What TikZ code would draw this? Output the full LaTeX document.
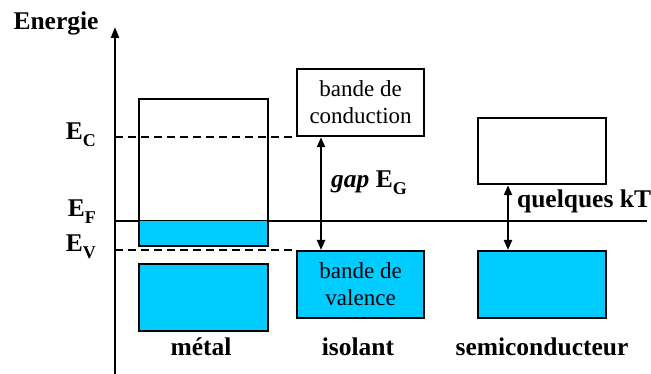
\documentclass[tikz,border=0pt]{standalone}
\usepackage{fontspec}
\setmainfont{Liberation Serif}
\usetikzlibrary{arrows.meta}
\definecolor{bandfill}{HTML}{00CCFF}
% lowered subscript for the energy levels
\newcommand\lvlsub[1]{\raisebox{-7pt}{\fontsize{18}{18}\selectfont #1}}
\begin{document}
\begin{tikzpicture}[x=1pt,y=-1pt,line width=2.2pt,
  band/.style={draw,line width=2.2pt,minimum width=127pt,minimum height=67pt,
    anchor=north west,inner sep=0pt,align=center,
    font=\fontsize{23}{27}\selectfont},
  filled/.style={band,fill=bandfill},
  lbl/.style={font=\fontsize{25.5}{28}\selectfont\bfseries,anchor=base,inner sep=0pt},
  level/.style={line width=2.2pt,dash pattern=on 8pt off 5pt},
  tip/.style={-{Triangle[length=11pt,width=8pt]}},
  dtip/.style={{Triangle[length=10pt,width=8pt]}-{Triangle[length=10pt,width=8pt]}}
]
\useasboundingbox (0,0) rectangle (651,374);

% energy axis
\coordinate (ax0) at (115,374);
\coordinate (ax1) at (115,27);
\draw[tip] (ax0) -- (ax1);
\node[lbl] (energie) at (56,30) {Energie};

% Fermi level
\coordinate (ef) at (647,221);
\draw (ax0 |- ef) -- (ef);

% metal
\fill[bandfill] (138,221) rectangle (267,245);
\node[band,minimum width=129pt,minimum height=147pt] (metC) at (138,98) {};
\node[filled,minimum width=129pt] (metV) at (138,263) {};

% insulator
\node[band] (isoC) at (296,68) {bande de\\conduction};
\node[filled] (isoV) at (296,250) {bande de\\valence};

% semiconductor
\node[band,minimum width=128pt,minimum height=66pt] (semC) at (477,117) {};
\node[filled,minimum width=128pt] (semV) at (477,250) {};

% band edges
\draw[level] (ax0 |- isoC.south) -- (isoC.south west);
\draw[level] (ax0 |- isoV.north) -- (isoV.north west);

% gaps
\coordinate (gx) at (321,0);
\draw[dtip] (isoC.south -| gx) -- (isoV.north -| gx);
\coordinate (sx) at (508,0);
\draw[dtip] (semC.south -| sx) -- (semV.north -| sx);

% level labels
\node[lbl,anchor=base east] (ec) at (97,140) {E\lvlsub{C}};
\node[lbl,anchor=base east] (efl) at (97,217) {E\lvlsub{F}};
\node[lbl,anchor=base east] (ev) at (97,252) {E\lvlsub{V}};

\node[lbl] (gap) at (369,188) {\textit{gap} E\lvlsub{G}};
\node[lbl,anchor=base west] (kt) at (516,208) {quelques kT};

% material names
\node[lbl] (metal) at (201,355) {métal};
\node[lbl] (isolant) at (358,355) {isolant};
\node[lbl] (semi) at (542,355) {semiconducteur};
\end{tikzpicture}
\end{document}
